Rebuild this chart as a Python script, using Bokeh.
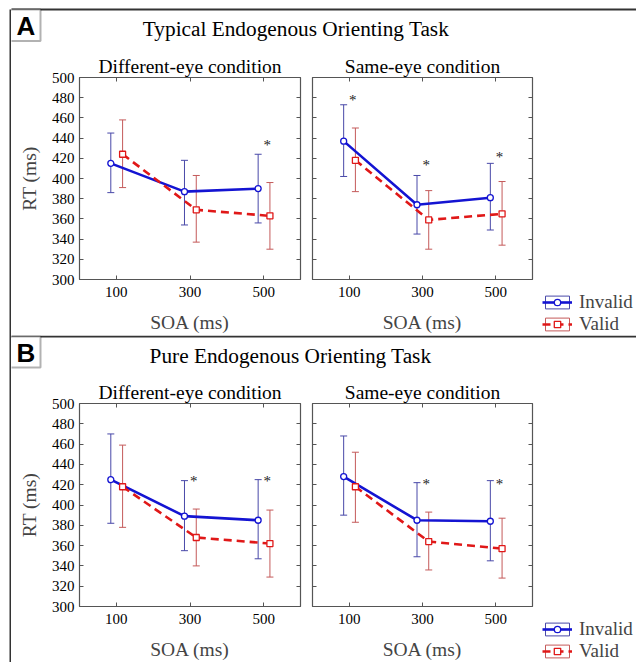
from bokeh.plotting import figure
from bokeh.models import (Range1d, LinearAxis, FixedTicker, Whisker, ColumnDataSource, Label,
                          Legend, LegendItem, TeeHead, Title, BoxAnnotation, Spacer)
from bokeh.layouts import row, column
from bokeh.embed import file_html
from bokeh.resources import INLINE
from bokeh.core.properties import value

# ---------------- data ----------------
SOA = [100, 300, 500]
Y_TICKS = [300, 320, 340, 360, 380, 400, 420, 440, 460, 480, 500]

# Panel A: Typical Endogenous Orienting Task
A_diff_invalid = [415, 387, 390]
A_diff_invalid_lo = [386, 354, 356]
A_diff_invalid_hi = [445, 418, 424]
A_diff_valid = [424, 369, 363]
A_diff_valid_lo = [391, 337, 330]
A_diff_valid_hi = [458, 403, 396]
A_diff_star_soa = [500]
A_diff_star_y = [433]

A_same_invalid = [437, 374, 381]
A_same_invalid_lo = [402, 345, 349]
A_same_invalid_hi = [473, 403, 415]
A_same_valid = [418, 359, 365]
A_same_valid_lo = [387, 330, 334]
A_same_valid_hi = [450, 388, 397]
A_same_star_soa = [100, 300, 500]
A_same_star_y = [478, 413, 421]

# Panel B: Pure Endogenous Orienting Task
B_diff_invalid = [425, 389, 385]
B_diff_invalid_lo = [382, 355, 347]
B_diff_invalid_hi = [470, 424, 425]
B_diff_valid = [418, 368, 362]
B_diff_valid_lo = [378, 340, 329]
B_diff_valid_hi = [459, 396, 395]
B_diff_star_soa = [300, 500]
B_diff_star_y = [424, 424]

B_same_invalid = [428, 385, 384]
B_same_invalid_lo = [390, 349, 345]
B_same_invalid_hi = [468, 422, 424]
B_same_valid = [418, 364, 357]
B_same_valid_lo = [383, 336, 328]
B_same_valid_hi = [452, 393, 387]
B_same_star_soa = [300, 500]
B_same_star_y = [421, 421]

# ---------------- style ----------------
SERIF = "Liberation Serif"
INV_C = "#1414d2"
VAL_C = "#e01818"
INV_ERR = "#4848a8"
VAL_ERR = "#c45a5a"
FRAME_C = "#555555"
DARK = "#333333"
OFF_INV = -15
OFF_VAL = 17
STAR_OFF = 10
TICK_FS = "15px"
LAB_FS = "19.5px"

CONTENT_W = 625
W_LEFT, W_RIGHT = 295, 228
W_LEG = CONTENT_W - W_LEFT - W_RIGHT
TOTAL_H = 662
LEG_H = 46


def bare(w, h, **kw):
    p = figure(width=w, height=h, output_backend="svg", toolbar_location=None, title=None,
               x_axis_location=None, y_axis_location=None, outline_line_color=None, **kw)
    p.grid.visible = False
    return p


def header(letter, title, title_x, title_y, h, line_y, box_top, box_bottom):
    p = bare(CONTENT_W, h, min_border=0,
             x_range=Range1d(0, CONTENT_W), y_range=Range1d(h, 0))
    p.add_layout(BoxAnnotation(left=-2, right=CONTENT_W + 2, top=line_y, bottom=line_y + 2,
                               fill_color=DARK, fill_alpha=1, line_color=None))
    p.add_layout(BoxAnnotation(left=-2, right=29, top=box_top, bottom=box_bottom,
                               fill_color="white", fill_alpha=1,
                               line_color="black", line_width=2))
    p.add_layout(Label(x=14.5, y=(box_top + box_bottom) / 2 + 0.5, text=letter,
                       text_font="Liberation Sans",
                       text_font_style="bold", text_font_size="26px",
                       text_align="center", text_baseline="middle", text_color="black"))
    p.add_layout(Label(x=title_x, y=title_y, text=title, text_font=SERIF,
                       text_font_size="21.3px", text_align="center",
                       text_baseline="middle", text_color="black"))
    return p


def vstrip(w, h, mbl, mbt):
    return bare(w, h, min_border_left=mbl, min_border_right=0, min_border_top=mbt,
                min_border_bottom=0, background_fill_color=DARK, border_fill_color="white",
                x_range=Range1d(0, 1), y_range=Range1d(0, 1))


def subplot(sub_title, inv, inv_lo, inv_hi, val, val_lo, val_hi, star_soa, star_y,
            width, height, mbl, mbr, show_ylabels):
    p = figure(width=width, height=height, output_backend="svg", toolbar_location=None,
               title=None, x_range=Range1d(0, 600), y_range=Range1d(300, 500),
               min_border_left=mbl, min_border_right=mbr,
               min_border_top=10, min_border_bottom=10)
    p.grid.visible = False
    p.outline_line_color = FRAME_C
    p.outline_line_width = 1.2
    p.background_fill_color = "white"
    p.border_fill_color = "white"

    def style(ax, ticks, labels):
        ax.ticker = FixedTicker(ticks=ticks)
        ax.major_tick_in = 4
        ax.major_tick_out = 0
        ax.minor_tick_line_color = None
        ax.axis_line_color = None
        ax.major_tick_line_color = FRAME_C
        if labels:
            ax.major_label_text_font = SERIF
            ax.major_label_text_font_size = TICK_FS
            ax.major_label_text_color = "black"
        else:
            ax.major_label_text_color = None
            ax.major_label_text_font_size = "1px"
            ax.major_label_standoff = 0

    xax = p.xaxis[0]
    style(xax, SOA, True)
    xax.major_label_standoff = 7
    xax.axis_label = "SOA (ms)"
    xax.axis_label_text_font = SERIF
    xax.axis_label_text_font_size = LAB_FS
    xax.axis_label_text_font_style = "normal"
    xax.axis_label_standoff = 12

    yax = p.yaxis[0]
    style(yax, Y_TICKS, show_ylabels)
    if show_ylabels:
        yax.major_label_standoff = 5
        yax.axis_label = "RT (ms)"
        yax.axis_label_text_font = SERIF
        yax.axis_label_text_font_size = LAB_FS
        yax.axis_label_text_font_style = "normal"
        yax.axis_label_standoff = 9

    top = LinearAxis()
    style(top, SOA, False)
    p.add_layout(top, "above")
    right = LinearAxis()
    style(right, Y_TICKS, False)
    p.add_layout(right, "right")

    p.add_layout(Title(text=sub_title, align="center", text_font=SERIF,
                       text_font_size=LAB_FS, text_font_style="normal",
                       text_color="black", standoff=2), "above")

    src_inv = ColumnDataSource(dict(x=[s + OFF_INV for s in SOA], y=inv, lo=inv_lo, hi=inv_hi))
    src_val = ColumnDataSource(dict(x=[s + OFF_VAL for s in SOA], y=val, lo=val_lo, hi=val_hi))

    for src, c in ((src_inv, INV_ERR), (src_val, VAL_ERR)):
        w = Whisker(base="x", upper="hi", lower="lo", source=src, dimension="height",
                    line_color=c, line_width=1,
                    upper_head=TeeHead(size=7, line_color=c, line_width=1),
                    lower_head=TeeHead(size=7, line_color=c, line_width=1),
                    level="underlay")
        p.add_layout(w)

    p.line("x", "y", source=src_inv, line_color=INV_C, line_width=2.6)
    p.line("x", "y", source=src_val, line_color=VAL_C, line_width=2.6, line_dash="8 5")
    p.scatter("x", "y", source=src_inv, marker="circle", size=6, fill_color="white",
              line_color=INV_C, line_width=1.3)
    p.scatter("x", "y", source=src_val, marker="square", size=6, fill_color="white",
              line_color=VAL_C, line_width=1.3)

    star_src = ColumnDataSource(dict(x=[s + STAR_OFF for s in star_soa], y=star_y,
                                     t=["*"] * len(star_soa)))
    p.text("x", "y", text="t", source=star_src, text_font=value(SERIF),
           text_font_size="15px", text_align="center", text_baseline="middle",
           text_color="#222222")
    return p


def legend_fig():
    p = bare(W_LEG, LEG_H, min_border=0, x_range=Range1d(0, 1), y_range=Range1d(0, 1))
    nan = float("nan")
    items = []
    for name, lc, ec, dash, mk in (("Invalid", INV_C, INV_ERR, "solid", "circle"),
                                   ("Valid", VAL_C, VAL_ERR, "8 5", "square")):
        proxy = dict(x=[nan], y=[nan])
        r_err = p.rect(x="x", y="y", width=1, height=1, source=ColumnDataSource(proxy),
                       fill_color=None, line_color=ec, line_width=1)
        r_line = p.line(x="x", y="y", source=ColumnDataSource(proxy), line_color=lc,
                        line_width=2.6, line_dash=dash)
        r_mk = p.scatter(x="x", y="y", source=ColumnDataSource(proxy), marker=mk,
                         fill_color="white", line_color=lc, line_width=1.3, size=6)
        items.append(LegendItem(label=name, renderers=[r_err, r_line, r_mk]))
    leg = Legend(items=items, location=(8, 0), glyph_width=30, glyph_height=16,
                 label_height=16, spacing=0, padding=0, margin=0, label_standoff=7,
                 label_text_font=SERIF, label_text_font_size="19px",
                 border_line_color=None, background_fill_alpha=0)
    p.add_layout(leg, "center")
    return p


def panel_row(diff, same, height):
    left = subplot("Different-eye condition", *diff, width=W_LEFT, height=height,
                   mbl=68, mbr=6, show_ylabels=True)
    right = subplot("Same-eye condition", *same, width=W_RIGHT, height=height,
                    mbl=6, mbr=2, show_ylabels=False)
    leg_col = column(Spacer(width=W_LEG, height=height - LEG_H), legend_fig(), spacing=0)
    return row(left, right, leg_col, spacing=0)


A_diff = (A_diff_invalid, A_diff_invalid_lo, A_diff_invalid_hi,
          A_diff_valid, A_diff_valid_lo, A_diff_valid_hi, A_diff_star_soa, A_diff_star_y)
A_same = (A_same_invalid, A_same_invalid_lo, A_same_invalid_hi,
          A_same_valid, A_same_valid_lo, A_same_valid_hi, A_same_star_soa, A_same_star_y)
B_diff = (B_diff_invalid, B_diff_invalid_lo, B_diff_invalid_hi,
          B_diff_valid, B_diff_valid_lo, B_diff_valid_hi, B_diff_star_soa, B_diff_star_y)
B_same = (B_same_invalid, B_same_invalid_lo, B_same_invalid_hi,
          B_same_valid, B_same_valid_lo, B_same_valid_hi, B_same_star_soa, B_same_star_y)

content = column(
    header("A", "Typical Endogenous Orienting Task", 284.5, 28.5, 52, 8, 9, 40.5),
    panel_row(A_diff, A_same, 283),
    header("B", "Pure Endogenous Orienting Task", 279, 20.5, 43, 0, 1, 32),
    panel_row(B_diff, B_same, 284),
    spacing=0,
)
layout = row(vstrip(11, TOTAL_H, 9, 9), content, spacing=0)

open("out.html", "w").write(file_html(layout, INLINE))
